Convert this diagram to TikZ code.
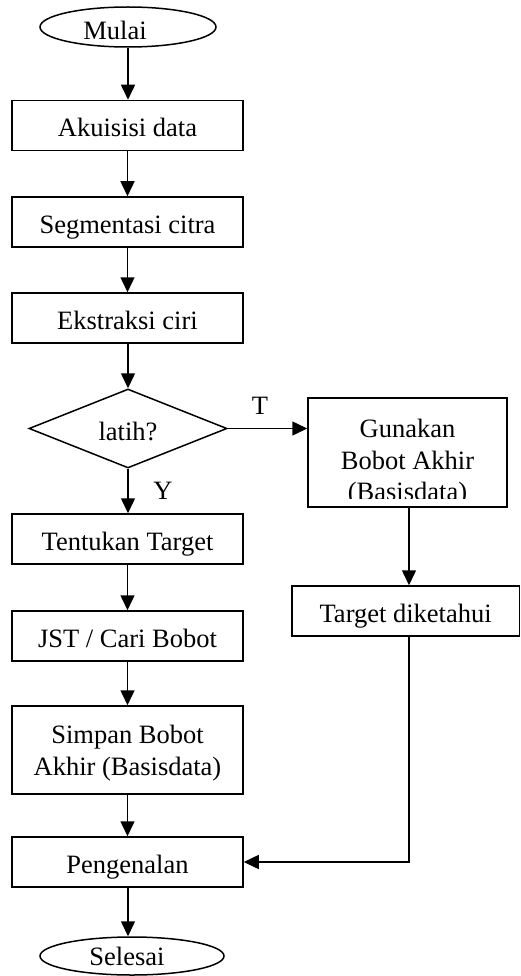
\documentclass[tikz,border=0pt]{standalone}
\usepackage{fontspec}
\setmainfont{Liberation Serif}
\usetikzlibrary{shapes.geometric,arrows.meta}
\begin{document}
\begin{tikzpicture}[x=1pt,y=-1pt,
  every node/.style={font=\fontsize{26.5}{32}\selectfont},
  box/.style={draw,line width=1.5pt,inner sep=0pt,minimum width=231pt,minimum height=50pt,text height=23pt,text depth=0pt},
  oval/.style={draw,ellipse,line width=1.5pt,inner sep=0pt},
  decision/.style={draw,diamond,line width=1.5pt,inner sep=0pt,aspect=2.5,minimum width=198pt,minimum height=79pt,text height=23pt,text depth=0pt},
  txt/.style={inner sep=0pt,align=center},
  arr/.style={line width=1.5pt,-{Triangle[length=15pt,width=14pt]}},
  lbl/.style={inner sep=0pt,anchor=base}]
\useasboundingbox (0,0) rectangle (520,976);
% start
\node[oval,minimum width=176pt,minimum height=40pt] (mulai) at (128,27) {};
\node[lbl] (mulait) at (115,40) {Mulai};
\node[box] (akuisisi) at (127.5,125.5) {Akuisisi data};
\node[box] (segmentasi) at (127.5,222) {Segmentasi citra};
\node[box] (ekstraksi) at (127.5,318) {Ekstraksi ciri};
\node[decision] (latih) at (128,428.5) {latih?};
\node[box] (tentukan) at (127.5,539) {Tentukan Target};
\node[box] (jst) at (127.5,636) {JST / Cari Bobot};
\node[box,minimum height=88pt] (simpan) at (127.5,750) {};
\node[txt] (simpant) at (127.5,753) {Simpan Bobot\\Akhir (Basisdata)};
\node[box] (pengenalan) at (127.5,862) {Pengenalan};
\node[oval,minimum width=184pt,minimum height=38pt] (selesai) at (132,956) {};
\node[lbl] (selesait) at (127,965) {Selesai};
% right column
\node[box,minimum width=199pt,minimum height=109pt] (gunakan) at (407.5,452.5) {};
\begin{scope}
  \clip (308,398) rectangle (507,498);
  \node[txt,font=\fontsize{26.5}{31.5}\selectfont] (gunakant) at (407.5,463) {Gunakan\\Bobot Akhir\\(Basisdata)};
\end{scope}
\node[box,minimum width=227.3pt] (target) at (405.65,611) {Target diketahui};
% labels
\node[lbl] (tlabel) at (260,414) {T};
\node[lbl] (ylabel) at (163,499) {Y};
% connectors
\draw[arr] (mulai.south) -- (mulai.south |- akuisisi.north);
\draw[arr] (akuisisi) -- (segmentasi);
\draw[arr] (segmentasi) -- (ekstraksi);
\draw[arr] (ekstraksi.south -| latih.north) -- (latih.north);
\draw[arr] (latih.south) -- (latih.south |- tentukan.north);
\draw[arr] (latih.east) -- (latih.east -| gunakan.west);
\draw[arr] (tentukan) -- (jst);
\draw[arr] (jst) -- (simpan);
\draw[arr] (simpan) -- (pengenalan);
\draw[arr] (pengenalan.south -| selesai.north) ++(-4,0) -- ([xshift=-4pt]selesai.north);
\coordinate (gdown) at ([xshift=1.5pt]gunakan.south);
\draw[arr] (gdown) -- (gdown |- target.north);
\coordinate (tdown) at ([xshift=3.35pt]target.south);
\draw[arr] (tdown) |- (pengenalan.east);
\end{tikzpicture}
\end{document}
